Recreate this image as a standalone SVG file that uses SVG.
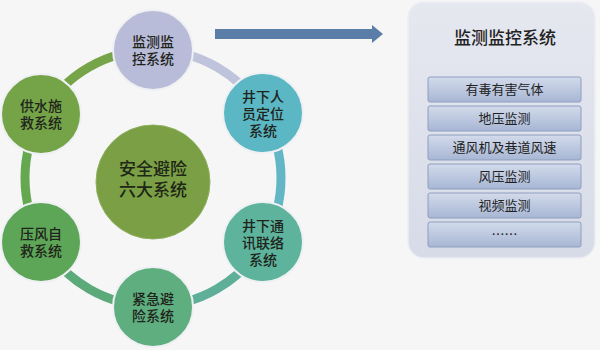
<svg xmlns="http://www.w3.org/2000/svg" width="600" height="350" viewBox="0 0 600 350">
<defs>
<linearGradient id="panelG" x1="0" y1="0" x2="0" y2="1">
<stop offset="0" stop-color="#e6e8f0"/>
<stop offset="1" stop-color="#d6dbe7"/>
</linearGradient>
<linearGradient id="itemG" x1="0" y1="0" x2="0" y2="1">
<stop offset="0" stop-color="#d3dbeb"/>
<stop offset="1" stop-color="#a7b6d4"/>
</linearGradient>
<style>
.node circle{stroke:#eef0f3;stroke-width:2}
.nt{font-family:"Noto Sans CJK SC","Noto Sans",sans-serif;font-size:14px;fill:#1e231b;text-anchor:middle;font-weight:500}
.ct{font-family:"Noto Sans CJK SC","Noto Sans",sans-serif;font-size:17px;fill:#1e2616;text-anchor:middle;font-weight:500}
.arc{fill:none;stroke-width:9}
.item rect{fill:url(#itemG);stroke:#8e9ebf;stroke-width:1}
.it{font-family:"Noto Sans CJK SC","Noto Sans",sans-serif;font-size:13px;fill:#222;text-anchor:middle}
</style>
</defs>
<rect width="600" height="350" fill="#f6f6f6"/>
<g id="connectors">
<path class="arc" stroke="#bfc3dc" d="M153,50 A128,128 0 0 1 263.85,114"/>
<path class="arc" stroke="#62b6c6" d="M263.85,114 A128,128 0 0 1 263.85,242"/>
<path class="arc" stroke="#5eae98" d="M263.85,242 A128,128 0 0 1 153,306"/>
<path class="arc" stroke="#5ca97a" d="M153,306 A128,128 0 0 1 42.15,242"/>
<path class="arc" stroke="#64a84f" d="M42.15,242 A128,128 0 0 1 42.15,114"/>
<path class="arc" stroke="#75a548" d="M42.15,114 A128,128 0 0 1 153,50"/>
<g id="arrow" fill="#5a7ea8">
<rect x="215" y="29" width="158" height="10"/>
<polygon points="372,25 383,34 372,43"/>
</g>
</g>
<g id="center" class="node">
<circle cx="153" cy="182" r="57" fill="#7a9f45" style="stroke:#8fb05e;stroke-width:1"/>
<text class="ct" x="153" y="175">安全避险<tspan x="153" dy="21">六大系统</tspan></text>
</g>
<g id="n-top" class="node">
<circle cx="153" cy="50" r="40" fill="#b9bcd8"/>
<text class="nt" x="153" y="47">监测监<tspan x="153" dy="17">控系统</tspan></text>
</g>
<g id="n-ur" class="node">
<circle cx="263" cy="113" r="40" fill="#5cb7c4"/>
<text class="nt" x="263" y="102">井下人<tspan x="263" dy="17">员定位</tspan><tspan x="263" dy="17">系统</tspan></text>
</g>
<g id="n-lr" class="node">
<circle cx="263" cy="242" r="40" fill="#5db39c"/>
<text class="nt" x="263" y="231">井下通<tspan x="263" dy="17">讯联络</tspan><tspan x="263" dy="17">系统</tspan></text>
</g>
<g id="n-bottom" class="node">
<circle cx="153" cy="307" r="40" fill="#5fae7f"/>
<text class="nt" x="153" y="304">紧急避<tspan x="153" dy="17">险系统</tspan></text>
</g>
<g id="n-ll" class="node">
<circle cx="41" cy="242" r="40" fill="#5ea657"/>
<text class="nt" x="41" y="239">压风自<tspan x="41" dy="17">救系统</tspan></text>
</g>
<g id="n-ul" class="node">
<circle cx="41" cy="114" r="40" fill="#74a447"/>
<text class="nt" x="41" y="111">供水施<tspan x="41" dy="17">救系统</tspan></text>
</g>
<g id="panel">
<rect x="408" y="2" width="187" height="256" rx="16" fill="url(#panelG)" stroke="#eceef3" stroke-width="1.5"/>
<text class="ct" x="505" y="44" style="fill:#222">监测监控系统</text>
<g class="item"><rect x="428" y="77" width="153" height="25" rx="2"/><text class="it" x="504.5" y="94">有毒有害气体</text></g>
<g class="item"><rect x="428" y="106" width="153" height="25" rx="2"/><text class="it" x="504.5" y="123">地压监测</text></g>
<g class="item"><rect x="428" y="135" width="153" height="25" rx="2"/><text class="it" x="504.5" y="152">通风机及巷道风速</text></g>
<g class="item"><rect x="428" y="164" width="153" height="25" rx="2"/><text class="it" x="504.5" y="181">风压监测</text></g>
<g class="item"><rect x="428" y="193" width="153" height="25" rx="2"/><text class="it" x="504.5" y="210">视频监测</text></g>
<g class="item"><rect x="428" y="222" width="153" height="25" rx="2"/><text class="it" x="504.5" y="239">……</text></g>
</g>
</svg>
